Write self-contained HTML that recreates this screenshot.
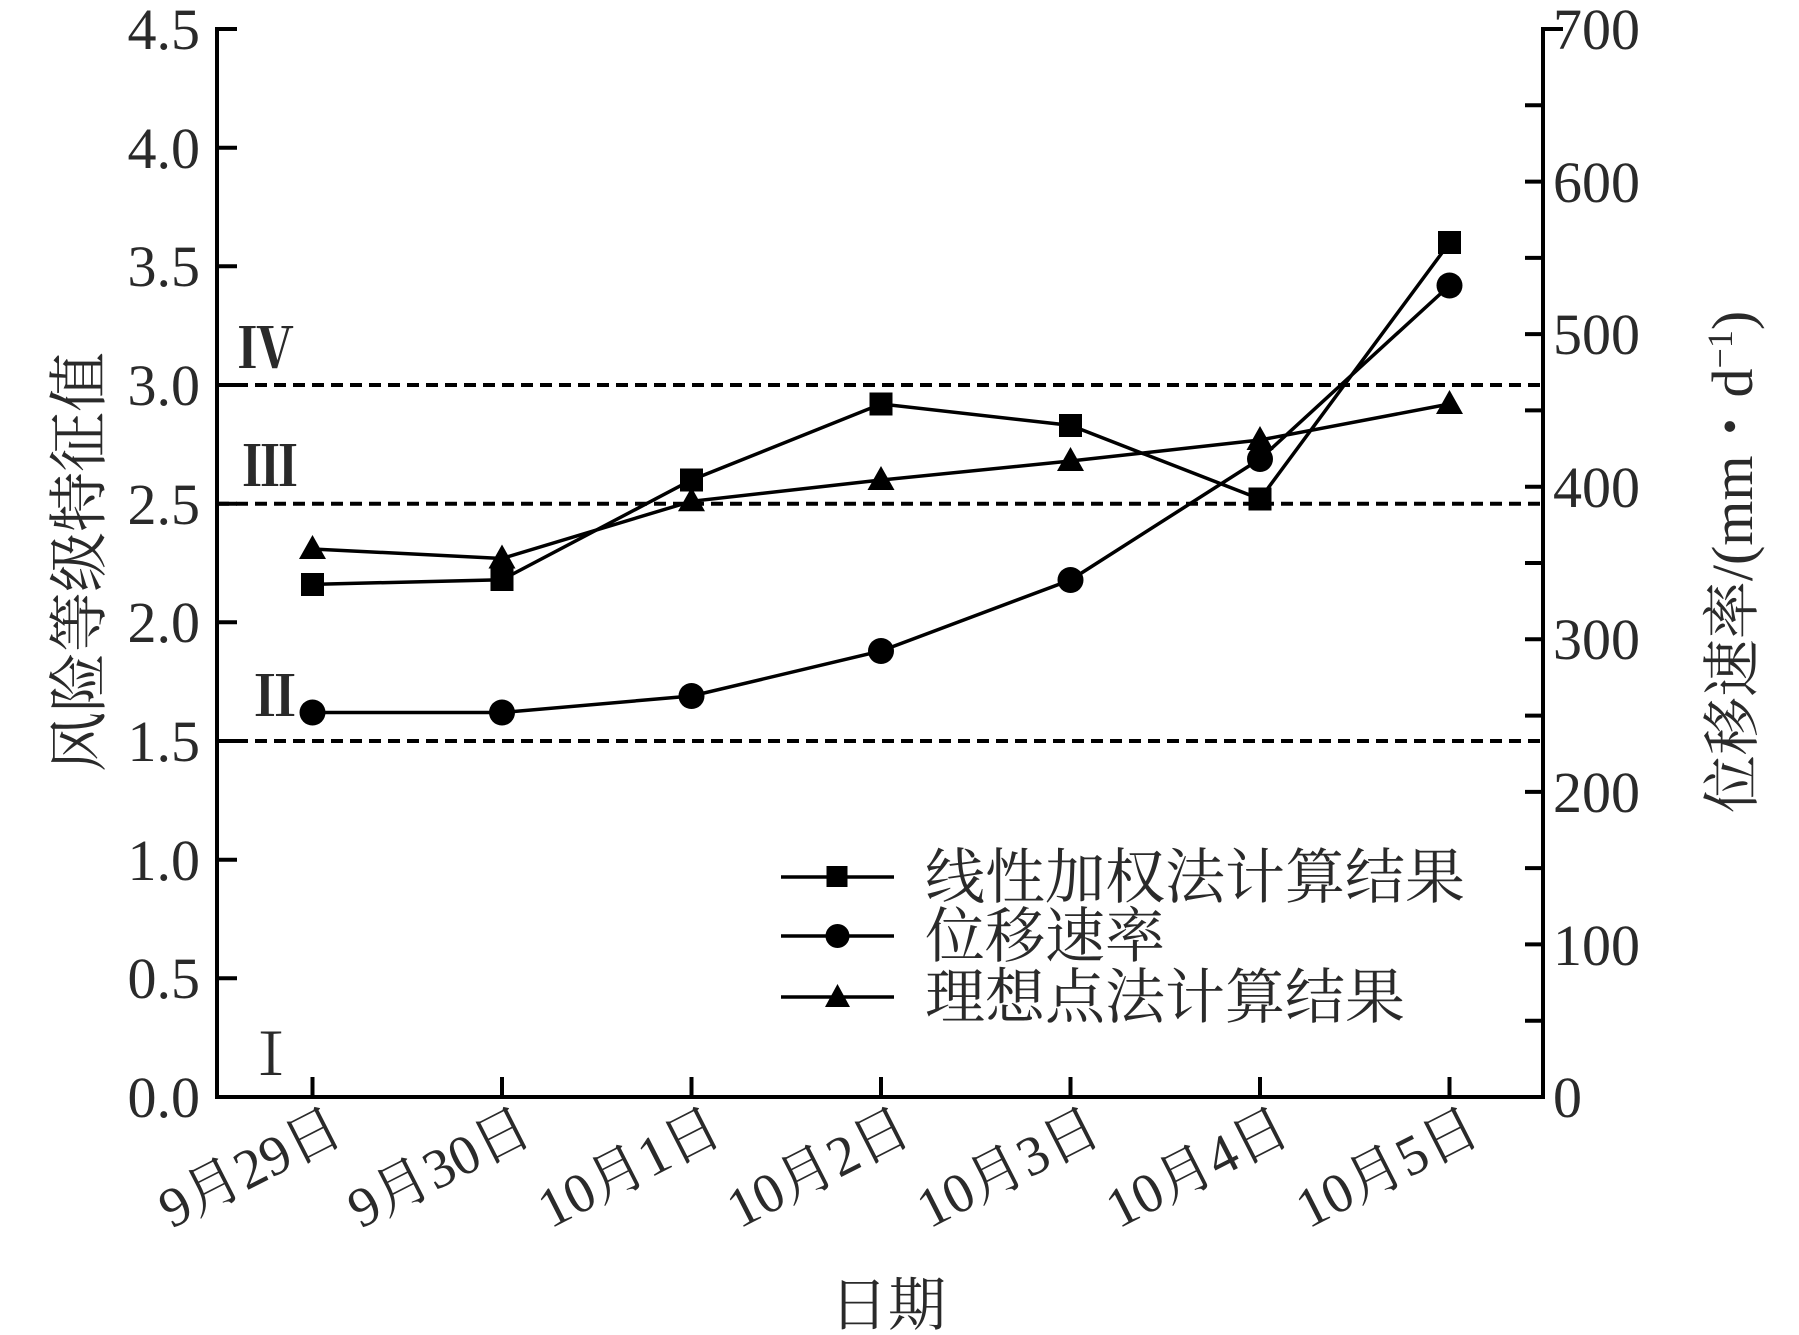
<!DOCTYPE html>
<html><head><meta charset="utf-8"><style>
html,body{margin:0;padding:0;background:#fff;}
svg{display:block;}
text{font-family:"Liberation Serif","Noto Serif CJK SC",serif;fill:#2a2a2a;}
</style></head><body>
<svg width="1799" height="1335" viewBox="0 0 1799 1335" xmlns="http://www.w3.org/2000/svg">
<g stroke="#000" stroke-width="4" fill="none">
<path d="M237,29 L217,29 L217,1097 L1543,1097 L1543,29 L1563,29"/>
</g>
<g stroke="#000" stroke-width="4">
<line x1="217" y1="147.7" x2="237" y2="147.7"/>
<line x1="217" y1="266.3" x2="237" y2="266.3"/>
<line x1="217" y1="385" x2="237" y2="385"/>
<line x1="217" y1="503.7" x2="237" y2="503.7"/>
<line x1="217" y1="622.3" x2="237" y2="622.3"/>
<line x1="217" y1="741" x2="237" y2="741"/>
<line x1="217" y1="859.7" x2="237" y2="859.7"/>
<line x1="217" y1="978.3" x2="237" y2="978.3"/>
</g>
<g stroke="#000" stroke-width="4">
<line x1="1525" y1="105.3" x2="1543" y2="105.3"/>
<line x1="1525" y1="181.6" x2="1543" y2="181.6"/>
<line x1="1525" y1="257.9" x2="1543" y2="257.9"/>
<line x1="1525" y1="334.1" x2="1543" y2="334.1"/>
<line x1="1525" y1="410.4" x2="1543" y2="410.4"/>
<line x1="1525" y1="486.7" x2="1543" y2="486.7"/>
<line x1="1525" y1="563" x2="1543" y2="563"/>
<line x1="1525" y1="639.3" x2="1543" y2="639.3"/>
<line x1="1525" y1="715.6" x2="1543" y2="715.6"/>
<line x1="1525" y1="791.9" x2="1543" y2="791.9"/>
<line x1="1525" y1="868.1" x2="1543" y2="868.1"/>
<line x1="1525" y1="944.4" x2="1543" y2="944.4"/>
<line x1="1525" y1="1020.7" x2="1543" y2="1020.7"/>
</g>
<g stroke="#000" stroke-width="4">
<line x1="312.5" y1="1097" x2="312.5" y2="1077"/>
<line x1="502" y1="1097" x2="502" y2="1077"/>
<line x1="691.5" y1="1097" x2="691.5" y2="1077"/>
<line x1="881" y1="1097" x2="881" y2="1077"/>
<line x1="1070.5" y1="1097" x2="1070.5" y2="1077"/>
<line x1="1260" y1="1097" x2="1260" y2="1077"/>
<line x1="1449.5" y1="1097" x2="1449.5" y2="1077"/>
</g>
<g stroke="#000" stroke-width="4" stroke-dasharray="12,7">
<line x1="217" y1="385" x2="1543" y2="385"/>
<line x1="217" y1="503.7" x2="1543" y2="503.7"/>
<line x1="217" y1="741" x2="1543" y2="741"/>
</g>
<g font-size="58" text-anchor="end">
<text x="200" y="49">4.5</text>
<text x="200" y="168">4.0</text>
<text x="200" y="286">3.5</text>
<text x="200" y="405">3.0</text>
<text x="200" y="524">2.5</text>
<text x="200" y="642">2.0</text>
<text x="200" y="761">1.5</text>
<text x="200" y="880">1.0</text>
<text x="200" y="998">0.5</text>
<text x="200" y="1117">0.0</text>
</g>
<g font-size="58" text-anchor="start">
<text x="1553" y="49">700</text>
<text x="1553" y="202">600</text>
<text x="1553" y="354">500</text>
<text x="1553" y="507">400</text>
<text x="1553" y="659">300</text>
<text x="1553" y="812">200</text>
<text x="1553" y="965">100</text>
<text x="1553" y="1117">0</text>
</g>
<g font-size="56" font-weight="bold">
<text x="238" y="368">Ⅳ</text>
<text x="242" y="486">Ⅲ</text>
<text x="247" y="716">Ⅱ</text>
</g>
<text x="242" y="1075" font-size="58">Ⅰ</text>
<g stroke="#000" stroke-width="3.5" fill="none">
<polyline points="312.5,584.4 502,579.7 691.5,480 881,404 1070.5,425.4 1260,499 1449.5,242.7"/>
<polyline points="312.5,712.5 502,712.5 691.5,696 881,651 1070.5,580 1260,459 1449.5,285.5"/>
<polyline points="312.5,549 502,558.5 691.5,501.3 881,480 1070.5,461 1260,440 1449.5,404"/>
</g>
<g fill="#000">
<rect x="301" y="573" width="23" height="23"/>
<rect x="490.5" y="568" width="23" height="23"/>
<rect x="680" y="468.5" width="23" height="23"/>
<rect x="869.5" y="392.5" width="23" height="23"/>
<rect x="1059" y="414" width="23" height="23"/>
<rect x="1248.5" y="487.5" width="23" height="23"/>
<rect x="1438" y="231" width="23" height="23"/>
<circle cx="312.5" cy="712.5" r="13"/>
<circle cx="502" cy="712.5" r="13"/>
<circle cx="691.5" cy="696" r="13"/>
<circle cx="881" cy="651" r="13"/>
<circle cx="1070.5" cy="580" r="13"/>
<circle cx="1260" cy="459" r="13"/>
<circle cx="1449.5" cy="285.5" r="13"/>
<polygon points="312.5,535 299,559 326,559"/>
<polygon points="502,544.5 488.5,568.5 515.5,568.5"/>
<polygon points="691.5,487.3 678,511.3 705,511.3"/>
<polygon points="881,466 867.5,490 894.5,490"/>
<polygon points="1070.5,447 1057,471 1084,471"/>
<polygon points="1260,426 1246.5,450 1273.5,450"/>
<polygon points="1449.5,390 1436,414 1463,414"/>
</g>
<g stroke="#000" stroke-width="3.5">
<line x1="781" y1="877" x2="894" y2="877"/>
<line x1="781" y1="936" x2="894" y2="936"/>
<line x1="781" y1="997" x2="894" y2="997"/>
</g>
<g fill="#000">
<rect x="826.5" y="866" width="21" height="21"/>
<circle cx="837.5" cy="936" r="12"/>
<polygon points="837.5,984 825,1007 850,1007"/>
</g>
<g font-size="60">
<text x="925" y="898">线性加权法计算结果</text>
<text x="925" y="957">位移速率</text>
<text x="925" y="1018">理想点法计算结果</text>
</g>
<g font-size="56" text-anchor="end">
<text transform="translate(346,1140) rotate(-27)">9月29日</text>
<text transform="translate(535,1140) rotate(-27)">9月30日</text>
<text transform="translate(725,1140) rotate(-27)">10月1日</text>
<text transform="translate(914,1140) rotate(-27)">10月2日</text>
<text transform="translate(1104,1140) rotate(-27)">10月3日</text>
<text transform="translate(1293,1140) rotate(-27)">10月4日</text>
<text transform="translate(1483,1140) rotate(-27)">10月5日</text>
</g>
<text x="888" y="1325" font-size="58" text-anchor="middle">日期</text>
<text transform="translate(100,562) rotate(-90)" font-size="60" text-anchor="middle">风险等级特征值</text>
<text transform="translate(1752,562) rotate(-90)" font-size="58" text-anchor="middle">位移速率/(mm・d<tspan font-size="36" dy="-20">−1</tspan><tspan dy="20">)</tspan></text>
</svg>
</body></html>
